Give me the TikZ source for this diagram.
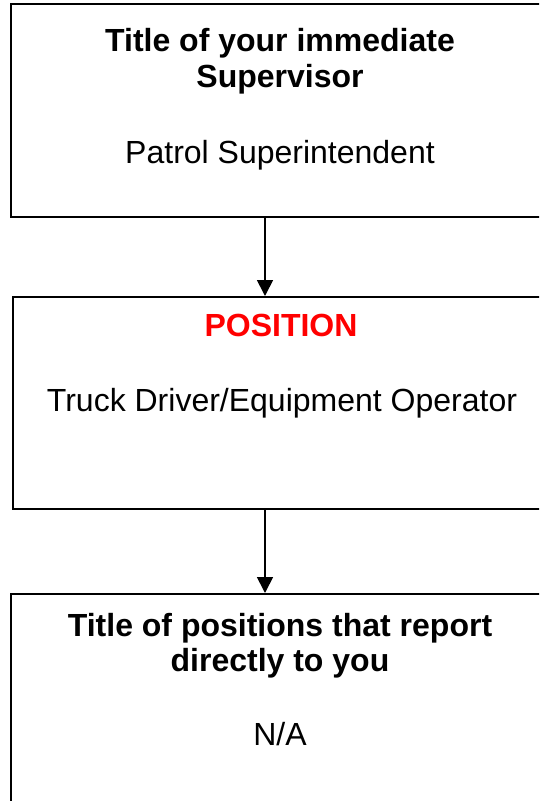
\documentclass[tikz,border=0pt]{standalone}
\usepackage{fontspec}
\setmainfont{Liberation Sans}
\usetikzlibrary{arrows.meta}
\definecolor{posred}{RGB}{255,0,0}
\tikzset{
  boxnode/.style={draw=black, line width=1.7pt, rectangle, anchor=north west, minimum width=545pt, inner sep=0pt},
  txt/.style={anchor=base, inner sep=0pt, font=\fontsize{32}{37}\selectfont},
  bold/.style={txt, font=\fontsize{32}{37}\selectfont\bfseries},
  conn/.style={line width=1.7pt, -{Triangle[length=16pt,width=16pt]}}
}
\begin{document}
\begin{tikzpicture}[x=1pt,y=-1pt]
\clip (0,0) rectangle (539,801);
\node[boxnode, minimum height=213pt] (sup) at (10,3) {};
\node[boxnode, minimum height=212pt] (pos) at (12,296) {};
\node[boxnode, minimum height=260pt] (rep) at (10,593) {};
\coordinate (ax) at (265,0);
\node[bold] (s1) at (280,51) {Title of your immediate};
\node[bold] (s2) at (280,87) {Supervisor};
\node[txt] (s3) at (280,163) {Patrol Superintendent};
\node[bold, text=posred] (p1) at (281,336) {POSITION};
\node[txt] (p2) at (282,411) {Truck Driver/Equipment Operator};
\node[bold] (r1) at (280,636) {Title of positions that report};
\node[bold] (r2) at (280,671) {directly to you};
\node[txt] (r3) at (280,745) {N/A};
\draw[conn] (sup.south -| ax) -- (pos.north -| ax);
\draw[conn] (pos.south -| ax) -- (rep.north -| ax);
\end{tikzpicture}
\end{document}
